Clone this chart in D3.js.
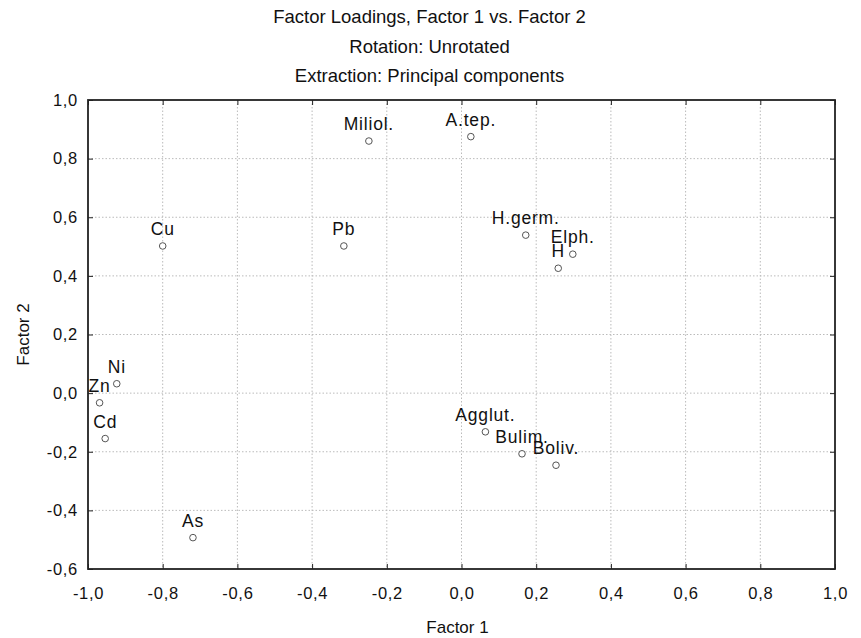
<!DOCTYPE html>
<html>
<head>
<meta charset="utf-8">
<script src="https://cdn.jsdelivr.net/npm/d3@7"></script>
<style>
  html, body { margin: 0; padding: 0; background: #fff; }
  svg { display: block; }
  text { font-family: "Liberation Sans", Arial, sans-serif; fill: #111; }
</style>
</head>
<body>
<svg id="chart" width="861" height="638"></svg>
<script>
// ---- data ----
const titles = ["Factor Loadings, Factor 1 vs. Factor 2", "Rotation: Unrotated", "Extraction: Principal components"];
const labels = ["Cu", "Pb", "Miliol.", "A.tep.", "H.germ.", "Elph.", "H", "Ni", "Zn", "Cd", "As", "Agglut.", "Bulim.", "Boliv."];
const factor1 = [-0.800, -0.315, -0.248, 0.025, 0.172, 0.298, 0.259, -0.923, -0.969, -0.954, -0.719, 0.064, 0.162, 0.253];
const factor2 = [0.502, 0.502, 0.860, 0.875, 0.539, 0.474, 0.426, 0.032, -0.033, -0.155, -0.493, -0.132, -0.207, -0.246];
const xTicks = [-1.0, -0.8, -0.6, -0.4, -0.2, 0.0, 0.2, 0.4, 0.6, 0.8, 1.0];
const yTicks = [-0.6, -0.4, -0.2, 0.0, 0.2, 0.4, 0.6, 0.8, 1.0];
const xTitle = "Factor 1";
const yTitle = "Factor 2";

// ---- layout ----
const W = 861, H = 638;
const L = 88, R = 835, T = 100, B = 569;
const svg = d3.select("#chart");
const x = d3.scaleLinear().domain([-1, 1]).range([L, R]);
const y = d3.scaleLinear().domain([-0.6, 1]).range([B, T]);
const fmt = v => d3.format(".1f")(v).replace(".", ",").replace("−", "-");

// grid
const grid = svg.append("g");
grid.selectAll("line.gx").data(xTicks.slice(1, -1)).enter().append("line")
  .attr("x1", d => x(d)).attr("x2", d => x(d)).attr("y1", T).attr("y2", B)
  .attr("stroke", "#bbb").attr("stroke-width", 1).attr("stroke-dasharray", "1.5,2");
grid.selectAll("line.gy").data(yTicks.slice(1, -1)).enter().append("line")
  .attr("y1", d => y(d)).attr("y2", d => y(d)).attr("x1", L).attr("x2", R)
  .attr("stroke", "#bbb").attr("stroke-width", 1).attr("stroke-dasharray", "1.5,2");

// axes (inward ticks on all sides)
const tickLen = 5;
const axB = svg.append("g").attr("transform", `translate(0,${B})`)
  .call(d3.axisBottom(x).tickValues(xTicks).tickSize(-tickLen).tickPadding(14).tickFormat(fmt));
const axT = svg.append("g").attr("transform", `translate(0,${T})`)
  .call(d3.axisTop(x).tickValues(xTicks).tickSize(-tickLen).tickFormat(""));
const axL = svg.append("g").attr("transform", `translate(${L},0)`)
  .call(d3.axisLeft(y).tickValues(yTicks).tickSize(-tickLen).tickPadding(10).tickFormat(fmt));
const axR = svg.append("g").attr("transform", `translate(${R},0)`)
  .call(d3.axisRight(y).tickValues(yTicks).tickSize(-tickLen).tickFormat(""));
[axB, axT, axL, axR].forEach(a => {
  a.select(".domain").remove();
  a.selectAll(".tick line").attr("stroke", "#222").attr("stroke-width", 1);
  a.selectAll(".tick text").attr("font-family", "Liberation Sans, Arial, sans-serif")
    .attr("font-size", 16.5).attr("fill", "#111").style("letter-spacing", "0.7px");
});
axB.selectAll(".tick text").attr("dy", "0.95em");
// frame
svg.append("rect").attr("x", L).attr("y", T).attr("width", R - L).attr("height", B - T)
  .attr("fill", "none").attr("stroke", "#222").attr("stroke-width", 1.8);

// points
const pts = labels.map((l, i) => ({ label: l, f1: factor1[i], f2: factor2[i] }));
svg.append("g").selectAll("circle").data(pts).enter().append("circle")
  .attr("cx", d => x(d.f1)).attr("cy", d => y(d.f2)).attr("r", 3.3)
  .attr("fill", "#fff").attr("stroke", "#555").attr("stroke-width", 1);
svg.append("g").selectAll("text").data(pts).enter().append("text")
  .attr("x", d => x(d.f1)).attr("y", d => y(d.f2) - 11)
  .attr("text-anchor", "middle").attr("font-size", 17.5)
  .style("letter-spacing", "0.8px")
  .text(d => d.label);

// titles
svg.append("g").selectAll("text").data(titles).enter().append("text")
  .attr("x", W / 2 - 1).attr("y", (d, i) => 23 + i * 29.5)
  .attr("text-anchor", "middle").attr("font-size", 18.5)
  .text(d => d);

// axis titles
svg.append("text").attr("x", (L + R) / 2 - 4).attr("y", 633)
  .attr("text-anchor", "middle").attr("font-size", 17).text(xTitle);
svg.append("text").attr("transform", `translate(29,${(T + B) / 2}) rotate(-90)`)
  .attr("text-anchor", "middle").attr("font-size", 17).text(yTitle);
</script>
</body>
</html>
